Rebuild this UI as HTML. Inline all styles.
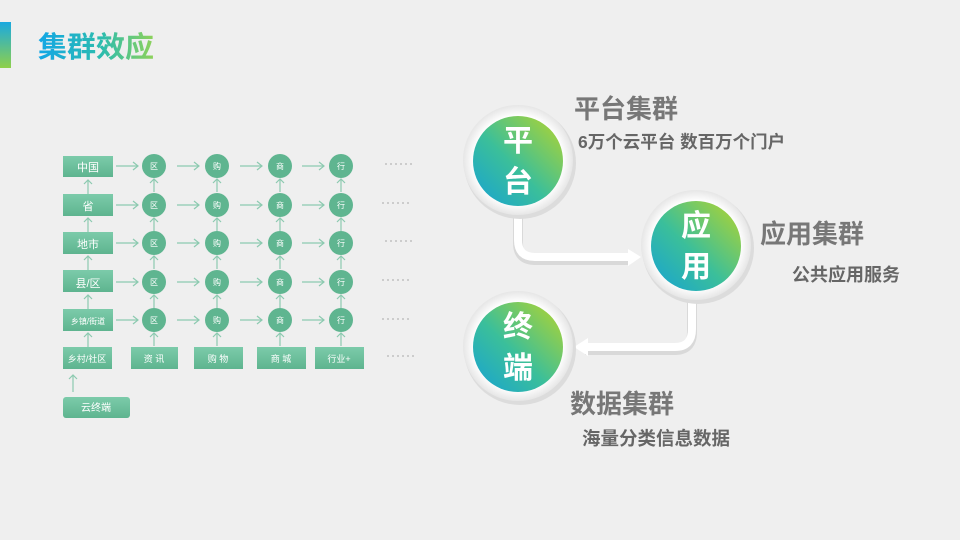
<!DOCTYPE html>
<html><head><meta charset="utf-8"><style>
html,body{margin:0;padding:0;background:#efefef;}
svg{display:block;font-family:"Liberation Sans","Noto Sans CJK SC",sans-serif;}
</style></head><body>
<svg width="960" height="540" viewBox="0 0 960 540" xmlns="http://www.w3.org/2000/svg">
<defs>
<linearGradient id="bar" x1="0" y1="0" x2="0" y2="1"><stop offset="0" stop-color="#1aa9e0"/><stop offset="1" stop-color="#8fd04a"/></linearGradient>
<linearGradient id="tt" x1="0" y1="0" x2="1" y2="0"><stop offset="0" stop-color="#12a6e6"/><stop offset="0.55" stop-color="#2cbcae"/><stop offset="1" stop-color="#8fd259"/></linearGradient>
<linearGradient id="ball" x1="0" y1="1" x2="1" y2="0"><stop offset="0" stop-color="#16a2d4"/><stop offset="0.45" stop-color="#3bbf9a"/><stop offset="1" stop-color="#b8d52a"/></linearGradient>
<linearGradient id="box" x1="0" y1="0" x2="0" y2="1"><stop offset="0" stop-color="#7ccbaa"/><stop offset="1" stop-color="#5eb48f"/></linearGradient>
<radialGradient id="ring" cx="0.5" cy="0.5" r="0.5"><stop offset="0.8" stop-color="#ffffff"/><stop offset="1" stop-color="#e6e6e6"/></radialGradient>
</defs>
<rect x="0" y="22" width="11" height="46" fill="url(#bar)"/>
<text x="38" y="57" font-size="29" font-weight="bold" fill="url(#tt)">集群效应</text>

<g stroke="#8ccab0" stroke-width="1.2" fill="none">
<path d="M116 166H138M177 166H199M240 166H262M302 166H324"/>
<path d="M116 205H138M177 205H199M240 205H262M302 205H324"/>
<path d="M116 243H138M177 243H199M240 243H262M302 243H324"/>
<path d="M116 282H138M177 282H199M240 282H262M302 282H324"/>
<path d="M116 320H138M177 320H199M240 320H262M302 320H324"/>
<path d="M133 162L138 166L133 170M194 162L199 166L194 170M257 162L262 166L257 170M319 162L324 166L319 170"/>
<path d="M133 201L138 205L133 209M194 201L199 205L194 209M257 201L262 205L257 209M319 201L324 205L319 209"/>
<path d="M133 239L138 243L133 247M194 239L199 243L194 247M257 239L262 243L257 247M319 239L324 243L319 247"/>
<path d="M133 278L138 282L133 286M194 278L199 282L194 286M257 278L262 282L257 286M319 278L324 282L319 286"/>
<path d="M133 316L138 320L133 324M194 316L199 320L194 324M257 316L262 320L257 324M319 316L324 320L319 324"/>
<path d="M88 194V180M88 233V218M88 271V256M88 309V295M88 347V333M73 392V375"/>
<path d="M154 192V179M154 231V218M154 269V256M154 308V295M154 346V333"/>
<path d="M217 192V179M217 231V218M217 269V256M217 308V295M217 346V333"/>
<path d="M280 192V179M280 231V218M280 269V256M280 308V295M280 346V333"/>
<path d="M341 192V179M341 231V218M341 269V256M341 308V295M341 346V333"/>
<path d="M84 184L88 180L92 184M84 222L88 218L92 222M84 260L88 256L92 260M84 299L88 295L92 299M84 337L88 333L92 337M69 379L73 375L77 379"/>
<path d="M150 183L154 179L158 183M150 222L154 218L158 222M150 260L154 256L158 260M150 299L154 295L158 299M150 337L154 333L158 337"/>
<path d="M213 183L217 179L221 183M213 222L217 218L221 222M213 260L217 256L221 260M213 299L217 295L221 299M213 337L217 333L221 337"/>
<path d="M276 183L280 179L284 183M276 222L280 218L284 222M276 260L280 256L284 260M276 299L280 295L284 299M276 337L280 333L284 337"/>
<path d="M337 183L341 179L345 183M337 222L341 218L345 222M337 260L341 256L345 260M337 299L341 295L345 299M337 337L341 333L345 337"/>
</g>

<g fill="url(#box)">
<rect x="63" y="156" width="50" height="21"/>
<rect x="63" y="194" width="50" height="22"/>
<rect x="63" y="232" width="50" height="22"/>
<rect x="63" y="270" width="50" height="22"/>
<rect x="63" y="309" width="50" height="22"/>
<rect x="63" y="347" width="49" height="22"/>
<rect x="131" y="347" width="47" height="22"/>
<rect x="194" y="347" width="49" height="22"/>
<rect x="257" y="347" width="49" height="22"/>
<rect x="315" y="347" width="49" height="22"/>
<rect x="63" y="397" width="67" height="21" rx="3"/>
</g>
<g fill="#5fb590">
<circle cx="154" cy="166" r="12"/><circle cx="217" cy="166" r="12"/><circle cx="280" cy="166" r="12"/><circle cx="341" cy="166" r="12"/>
<circle cx="154" cy="205" r="12"/><circle cx="217" cy="205" r="12"/><circle cx="280" cy="205" r="12"/><circle cx="341" cy="205" r="12"/>
<circle cx="154" cy="243" r="12"/><circle cx="217" cy="243" r="12"/><circle cx="280" cy="243" r="12"/><circle cx="341" cy="243" r="12"/>
<circle cx="154" cy="282" r="12"/><circle cx="217" cy="282" r="12"/><circle cx="280" cy="282" r="12"/><circle cx="341" cy="282" r="12"/>
<circle cx="154" cy="320" r="12"/><circle cx="217" cy="320" r="12"/><circle cx="280" cy="320" r="12"/><circle cx="341" cy="320" r="12"/>
</g>
<g fill="#fff" text-anchor="middle" font-size="9">
<text x="88" y="171" font-size="11">中国</text>
<text x="88" y="210" font-size="11">省</text>
<text x="88" y="248" font-size="11">地市</text>
<text x="88" y="287" font-size="11">县/区</text>
<text x="88" y="324" font-size="8">乡镇/街道</text>
<text x="87" y="362">乡村/社区</text>
<text x="154" y="362">资 讯</text>
<text x="218" y="362">购 物</text>
<text x="281" y="362">商 城</text>
<text x="339" y="362">行业+</text>
<text x="96" y="411" font-size="10">云终端</text>
<g font-size="8">
<text x="154" y="169">区</text><text x="217" y="169">购</text><text x="280" y="169">商</text><text x="341" y="169">行</text>
<text x="154" y="208">区</text><text x="217" y="208">购</text><text x="280" y="208">商</text><text x="341" y="208">行</text>
<text x="154" y="246">区</text><text x="217" y="246">购</text><text x="280" y="246">商</text><text x="341" y="246">行</text>
<text x="154" y="285">区</text><text x="217" y="285">购</text><text x="280" y="285">商</text><text x="341" y="285">行</text>
<text x="154" y="323">区</text><text x="217" y="323">购</text><text x="280" y="323">商</text><text x="341" y="323">行</text>
</g>
</g>
<g stroke="#aaa" stroke-width="1" stroke-dasharray="2,3">
<path d="M385 164H413M382 203H410M385 241H413M382 280H410M382 319H410M387 356H415"/>
</g>

<g fill="none" stroke-linecap="butt">
<path d="M518 212V243Q518 260 535 260H630" stroke="#d9d9d9" stroke-width="10"/>
<path d="M518 210V240Q518 257 535 257H630" stroke="#fff" stroke-width="8"/>
<path d="M692 298V332Q692 350 675 350H585" stroke="#d9d9d9" stroke-width="10"/>
<path d="M692 296V329Q692 347 675 347H585" stroke="#fff" stroke-width="8"/>
</g>
<path d="M628 249L641 257L628 266Z" fill="#fff"/>
<path d="M588 338L574 347L588 356Z" fill="#fff"/>

<g>
<circle cx="520" cy="163" r="56" fill="#dcdcdc"/>
<circle cx="518" cy="160" r="55" fill="url(#ring)"/>
<circle cx="518" cy="161" r="45" fill="url(#ball)"/>
<circle cx="698" cy="248" r="56" fill="#dcdcdc"/>
<circle cx="696" cy="245" r="55" fill="url(#ring)"/>
<circle cx="696" cy="246" r="45" fill="url(#ball)"/>
<circle cx="520" cy="349" r="56" fill="#dcdcdc"/>
<circle cx="518" cy="346" r="55" fill="url(#ring)"/>
<circle cx="518" cy="347" r="45" fill="url(#ball)"/>
</g>
<g fill="#fff" font-size="30" text-anchor="middle" font-weight="bold">
<text x="518" y="151">平</text><text x="518" y="192">台</text>
<text x="696" y="236">应</text><text x="696" y="277">用</text>
<text x="518" y="337">终</text><text x="518" y="378">端</text>
</g>
<g fill="#777" font-weight="bold">
<text x="574" y="118" font-size="26">平台集群</text>
<text x="578" y="148" font-size="17.5" fill="#666">6万个云平台 数百万个门户</text>
<text x="760" y="243" font-size="26">应用集群</text>
<text x="792" y="281" font-size="18" fill="#666">公共应用服务</text>
<text x="570" y="413" font-size="26">数据集群</text>
<text x="582" y="445" font-size="18.5" fill="#666">海量分类信息数据</text>
</g>
</svg>
</body></html>
